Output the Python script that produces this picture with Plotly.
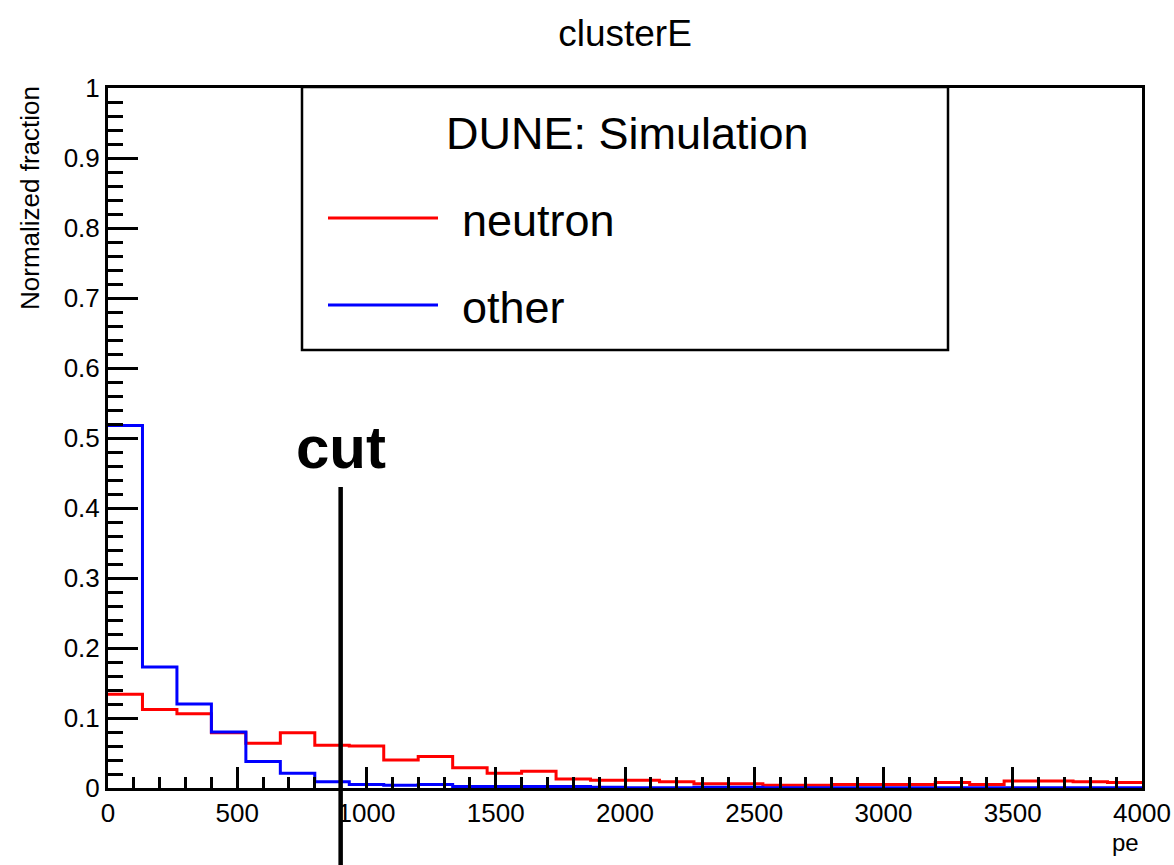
import numpy as np
import plotly.graph_objects as go

# ---- data ----
bin_lo, bin_hi, n_bins = 0, 4000, 30
neutron = [0.134, 0.112, 0.106, 0.079, 0.064, 0.079, 0.061, 0.060, 0.040, 0.045,
           0.029, 0.021, 0.024, 0.013, 0.011, 0.011, 0.009, 0.006, 0.006, 0.004,
           0.004, 0.005, 0.005, 0.005, 0.008, 0.005, 0.010, 0.010, 0.009, 0.008]
other = [0.518, 0.173, 0.120, 0.080, 0.038, 0.021, 0.009, 0.005, 0.004, 0.005,
         0.002, 0.002, 0.002, 0.002, 0.001, 0.0005, 0.0005, 0.001, 0.001, 0.0005,
         0.0005, 0.0005, 0.0005, 0.0005, 0.0005, 0.0005, 0.0005, 0.0005, 0.0005, 0.0005]
series_names = ["neutron", "other"]
series_colors = ["#ff0000", "#0000ff"]
cut_value = 900
cut_top = 0.43
legend_header = "DUNE: Simulation"
title_text = "clusterE"
x_title = "pe"
y_title = "Normalized fraction"

edges = np.linspace(bin_lo, bin_hi, n_bins + 1)

FONT = "Liberation Sans, Arial, Helvetica, sans-serif"

fig = go.Figure()
for name, vals, col in zip(series_names, [neutron, other], series_colors):
    fig.add_trace(go.Scatter(
        x=edges, y=list(vals) + [vals[-1]], mode="lines", line_shape="hv",
        line=dict(color=col, width=3), name=name, showlegend=False,
        hoverinfo="x+y+name"))

W, H = 1174, 865
L, R, T, B = 108, 32, 88, 77

fig.update_layout(
    width=W, height=H,
    margin=dict(l=L, r=R, t=T, b=B, autoexpand=False),
    paper_bgcolor="white", plot_bgcolor="white",
    font=dict(family=FONT, color="black", size=26),
    title=dict(text=title_text, x=0.5, xref="paper", xanchor="center",
               y=1 - 33 / H, yref="container", yanchor="middle",
               font=dict(size=37, family=FONT, color="black")),
    showlegend=False,
)

fig.update_xaxes(
    range=[bin_lo, bin_hi], dtick=500, tick0=0, automargin=False,
    showgrid=False, zeroline=False,
    showline=True, linecolor="black", linewidth=3, mirror=True,
    ticks="inside", ticklen=21, tickwidth=2.5, tickcolor="black",
    minor=dict(dtick=100, ticks="inside", ticklen=11, tickwidth=2.5, tickcolor="black"),
    tickfont=dict(size=26, family=FONT, color="black"),
)
fig.update_yaxes(
    range=[0, 1], dtick=0.1, tick0=0, automargin=False,
    showgrid=False, zeroline=False,
    showline=True, linecolor="black", linewidth=3, mirror=True,
    ticks="inside", ticklen=30, tickwidth=2.5, tickcolor="black",
    minor=dict(dtick=0.02, ticks="inside", ticklen=15, tickwidth=2.5, tickcolor="black"),
    tickfont=dict(size=26, family=FONT, color="black"),
)

def px_x(p):
    return (p - L) / (W - L - R)

def px_y(p):
    return (H - B - p) / (H - T - B)

shapes = []
annotations = []

# cut line
shapes.append(dict(type="line", xref="x", yref="paper", x0=cut_value, x1=cut_value,
                   y0=px_y(866), y1=cut_top, line=dict(color="black", width=4.5)))
annotations.append(dict(text="<b>cut</b>", xref="x", yref="paper", x=cut_value,
                        y=px_y(448), xanchor="center", yanchor="middle", showarrow=False,
                        font=dict(size=60, family=FONT, color="black")))

# legend box (manual, ROOT style)
shapes.append(dict(type="rect", xref="paper", yref="paper",
                   x0=px_x(302), x1=px_x(948), y0=px_y(350), y1=px_y(87),
                   line=dict(color="black", width=2.5), fillcolor="white", layer="above"))
annotations.append(dict(text=legend_header, xref="paper", yref="paper",
                        x=px_x(627), y=px_y(133), xanchor="center", yanchor="middle",
                        showarrow=False, font=dict(size=45, family=FONT, color="black")))
for i, (name, col) in enumerate(zip(series_names, series_colors)):
    ly = [218, 305][i]
    shapes.append(dict(type="line", xref="paper", yref="paper",
                       x0=px_x(328), x1=px_x(438), y0=px_y(ly), y1=px_y(ly),
                       line=dict(color=col, width=3), layer="above"))
    annotations.append(dict(text=name, xref="paper", yref="paper",
                            x=px_x(460), y=px_y(ly + 2), xanchor="left", yanchor="middle",
                            showarrow=False, font=dict(size=45, family=FONT, color="black")))

# axis titles
annotations.append(dict(text=y_title, xref="paper", yref="paper",
                        x=px_x(30), y=px_y(84), xanchor="center", yanchor="top",
                        textangle=-90, showarrow=False,
                        font=dict(size=26, family=FONT, color="black")))
annotations.append(dict(text=x_title, xref="paper", yref="paper",
                        x=px_x(1141), y=px_y(842), xanchor="right", yanchor="middle",
                        showarrow=False, font=dict(size=24, family=FONT, color="black")))

fig.update_layout(shapes=shapes, annotations=annotations)

fig.write_html("out.html")
